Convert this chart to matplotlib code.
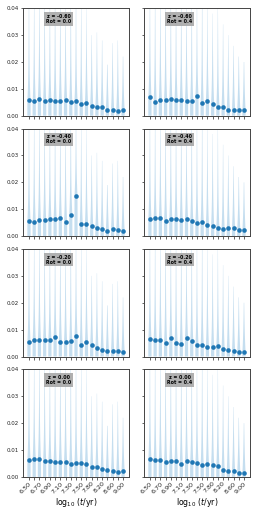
import numpy as np
import matplotlib
matplotlib.use("Agg")
import matplotlib.pyplot as plt
from matplotlib.patches import Polygon

# log10 ages (categories)
ages = [6.5, 6.6, 6.7, 6.8, 6.9, 7.0, 7.1, 7.2, 7.3, 7.4, 7.5, 7.6,
        7.8, 8.0, 8.2, 8.4, 8.6, 8.8, 9.0]
age_labels = ["%.2f" % a for a in ages]

metallicities = [-0.60, -0.40, -0.20, 0.00]
rotations = [0.0, 0.4]

# median values per panel (row = metallicity, col = rotation)
med_m060_r00 = [0.0057, 0.0053, 0.0064, 0.0056, 0.0057, 0.0056, 0.0055, 0.0060, 0.0050, 0.0054,
                0.0043, 0.0047, 0.0037, 0.0034, 0.0032, 0.0020, 0.0021, 0.0019, 0.0021]
med_m060_r04 = [0.0070, 0.0051, 0.0059, 0.0060, 0.0062, 0.0060, 0.0060, 0.0056, 0.0056, 0.0074,
                0.0049, 0.0056, 0.0045, 0.0033, 0.0033, 0.0023, 0.0023, 0.0023, 0.0022]
med_m040_r00 = [0.0057, 0.0052, 0.0060, 0.0060, 0.0065, 0.0062, 0.0066, 0.0052, 0.0080, 0.0151,
                0.0044, 0.0046, 0.0037, 0.0032, 0.0028, 0.0020, 0.0028, 0.0022, 0.0020]
med_m040_r04 = [0.0065, 0.0067, 0.0066, 0.0057, 0.0062, 0.0062, 0.0059, 0.0063, 0.0056, 0.0050,
                0.0052, 0.0041, 0.0037, 0.0030, 0.0027, 0.0029, 0.0030, 0.0023, 0.0022]
med_m020_r00 = [0.0054, 0.0062, 0.0062, 0.0063, 0.0063, 0.0071, 0.0055, 0.0055, 0.0056, 0.0076,
                0.0041, 0.0055, 0.0041, 0.0032, 0.0026, 0.0021, 0.0022, 0.0021, 0.0018]
med_m020_r04 = [0.0065, 0.0062, 0.0061, 0.0052, 0.0067, 0.0050, 0.0048, 0.0068, 0.0057, 0.0041,
                0.0041, 0.0035, 0.0035, 0.0038, 0.0029, 0.0023, 0.0022, 0.0017, 0.0018]
med_p000_r00 = [0.0064, 0.0068, 0.0068, 0.0060, 0.0058, 0.0056, 0.0056, 0.0057, 0.0049, 0.0051,
                0.0051, 0.0047, 0.0038, 0.0036, 0.0028, 0.0026, 0.0023, 0.0017, 0.0021]
med_p000_r04 = [0.0065, 0.0061, 0.0063, 0.0056, 0.0059, 0.0059, 0.0049, 0.0059, 0.0055, 0.0052,
                0.0043, 0.0048, 0.0044, 0.0039, 0.0027, 0.0022, 0.0022, 0.0016, 0.0016]

# upper extent of each violin (tail of the distribution)
top_r00 = [0.050, 0.048, 0.050, 0.050, 0.046, 0.050, 0.048, 0.045, 0.050, 0.050,
           0.044, 0.040, 0.030, 0.031, 0.028, 0.019, 0.027, 0.028, 0.022]
top_r04 = [0.050, 0.050, 0.050, 0.048, 0.050, 0.047, 0.050, 0.046, 0.050, 0.044,
           0.050, 0.042, 0.038, 0.040, 0.034, 0.030, 0.026, 0.022, 0.020]

medians = [[med_m060_r00, med_m060_r04],
           [med_m040_r00, med_m040_r04],
           [med_m020_r00, med_m020_r04],
           [med_p000_r00, med_p000_r04]]
tops = [top_r00, top_r04]

blue = "#1f77b4"
light = "#7fb6dd"


def draw_violin(ax, x, med, top):
    # thin tapered shape: wide around the median, long faint tail upwards
    ys = np.linspace(0, top, 80)
    w = 0.2 * np.exp(-np.clip(ys - med, 0, None) / 0.008) + 0.09 * (1 - ys / top) + 0.02
    pts = np.concatenate([np.column_stack([x - w, ys]),
                          np.column_stack([x + w[::-1], ys[::-1]])])
    ax.add_patch(Polygon(pts, closed=True, facecolor=light, edgecolor="none",
                         alpha=0.45, zorder=1))


fig, axes = plt.subplots(4, 2, figsize=(2.58, 5.15), dpi=100, sharex=True, sharey=True)
fig.subplots_adjust(left=0.088, right=0.968, top=0.984, bottom=0.074,
                    wspace=0.14, hspace=0.12)

xs = np.arange(len(ages))
for i, z in enumerate(metallicities):
    for j, rot in enumerate(rotations):
        ax = axes[i, j]
        vals = medians[i][j]
        for k in range(len(ages)):
            draw_violin(ax, xs[k], vals[k], tops[j][k])
        ax.scatter(xs, vals, s=11, color=blue, zorder=3, linewidths=0)
        ax.set_ylim(0, 0.04)
        ax.set_xlim(-1.2, 19.1)
        ax.set_yticks([0, 0.01, 0.02, 0.03, 0.04])
        ax.set_xticks(xs)
        ax.tick_params(length=1.8, width=0.5, labelsize=4.0, pad=1, colors="#222222")
        for s in ax.spines.values():
            s.set_linewidth(0.7)
            s.set_color("#444444")
        ax.text(0.34, 0.9, "z = %.2f\nRot = %.1f" % (z, rot), transform=ax.transAxes,
                ha="center", va="center", fontsize=3.4, fontweight="bold",
                linespacing=1.0,
                bbox=dict(boxstyle="square,pad=0.35", facecolor="#a8a8a8",
                          edgecolor="none", alpha=0.9))
        if i == 3:
            ax.set_xticklabels([lab if k % 2 == 0 else "" for k, lab in enumerate(age_labels)],
                               rotation=45, ha="right", rotation_mode="anchor")
            ax.tick_params(axis="x", labelsize=4.6)
            ax.set_xlabel(r"$\log_{10}\,(t/\mathrm{yr})$", fontsize=5.6, labelpad=1)

fig.savefig("out.png", dpi=100)
